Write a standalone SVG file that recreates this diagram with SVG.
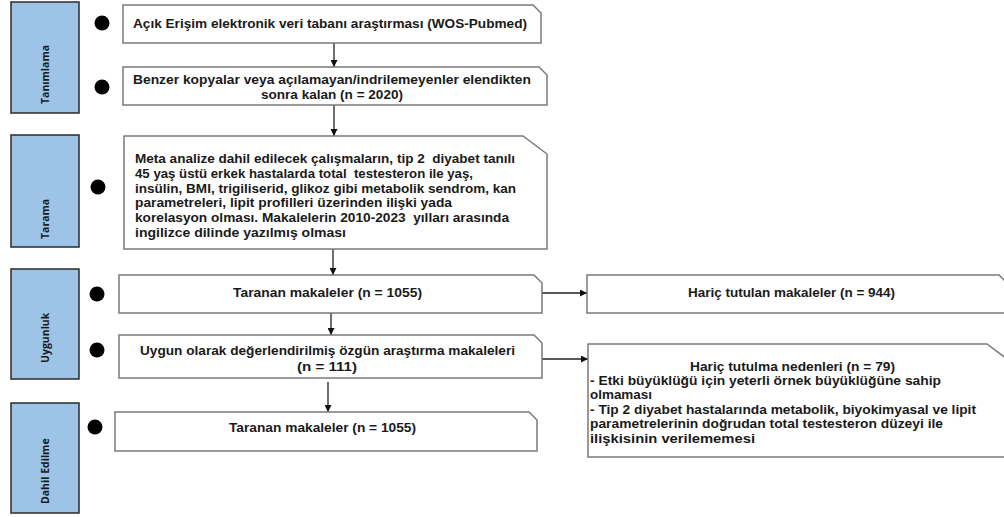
<svg xmlns="http://www.w3.org/2000/svg" width="1004" height="517" viewBox="0 0 1004 517">
<style>
.lbl{fill:#9dc3e6;stroke:#2b2b2b;stroke-width:1.5}
.lt{font-family:"Open Sans","Liberation Sans",sans-serif;font-weight:bold;font-size:10.5px;fill:#1a1a1a}
.box{fill:#fff;stroke:#7a7a7a;stroke-width:1.5}
.t{font-family:"Liberation Sans",Arial,sans-serif;font-weight:bold;font-size:12.5px;fill:#1a1a1a}
.dot{fill:#000}
.con{stroke:#222;stroke-width:1.3;fill:none;marker-end:url(#ah)}
</style>
<defs>
<marker id="ah" viewBox="0 0 10 10" refX="10" refY="5" markerWidth="7" markerHeight="7" markerUnits="userSpaceOnUse" orient="auto">
<path d="M0,0 L10,5 L0,10 z" fill="#111"/>
</marker>
</defs>
<rect width="1004" height="517" fill="#fff"/>

<g id="stage-tanimlama">
<rect class="lbl" x="11" y="2" width="68" height="111"/>
<text class="lt" transform="translate(49,104) rotate(-90)">Tanımlama</text>
</g>
<g id="stage-tarama">
<rect class="lbl" x="11" y="135" width="68" height="112"/>
<text class="lt" transform="translate(49,239) rotate(-90)">Tarama</text>
</g>
<g id="stage-uygunluk">
<rect class="lbl" x="11" y="269" width="68" height="110"/>
<text class="lt" transform="translate(49,363) rotate(-90)">Uygunluk</text>
</g>
<g id="stage-dahil">
<rect class="lbl" x="11" y="403" width="68" height="110"/>
<text class="lt" transform="translate(49,504) rotate(-90)">Dahil Edilme</text>
</g>

<g id="bullets">
<circle class="dot" cx="102" cy="23" r="7.5"/>
<circle class="dot" cx="102" cy="87" r="7.5"/>
<circle class="dot" cx="98" cy="187" r="7.5"/>
<circle class="dot" cx="97" cy="294" r="7.5"/>
<circle class="dot" cx="97" cy="350" r="7.5"/>
<circle class="dot" cx="95" cy="427" r="7.5"/>
</g>

<g id="connectors">
<line class="con" x1="334" y1="43" x2="334" y2="67"/>
<line class="con" x1="334" y1="105" x2="334" y2="136"/>
<line class="con" x1="333" y1="249" x2="333" y2="275"/>
<line class="con" x1="542" y1="293" x2="587" y2="293"/>
<line class="con" x1="331" y1="313" x2="331" y2="335"/>
<line class="con" x1="542" y1="359" x2="588" y2="359"/>
<line class="con" x1="328" y1="382" x2="328" y2="412"/>
</g>

<g id="n1">
<path class="box" d="M123,5 H533 L541,13 V43 H123 Z"/>
<text class="t" x="133" y="28" textLength="394" lengthAdjust="spacingAndGlyphs">Açık Erişim elektronik veri tabanı araştırması (WOS-Pubmed)</text>
</g>
<g id="n2">
<path class="box" d="M123,67 H539 L547,75 V105 H123 Z"/>
<text class="t" x="133" y="84" textLength="398" lengthAdjust="spacingAndGlyphs">Benzer kopyalar veya açılamayan/indrilemeyenler elendikten</text>
<text class="t" x="261" y="99" textLength="142" lengthAdjust="spacingAndGlyphs">sonra kalan (n = 2020)</text>
</g>
<g id="n3">
<path class="box" d="M124,136 H523 L547,154 V249 H124 Z"/>
<text class="t" x="135" y="163" textLength="380" lengthAdjust="spacingAndGlyphs" xml:space="preserve">Meta analize dahil edilecek çalışmaların, tip 2  diyabet tanılı</text>
<text class="t" x="135" y="178" textLength="338" lengthAdjust="spacingAndGlyphs" xml:space="preserve">45 yaş üstü erkek hastalarda total  testesteron ile yaş,</text>
<text class="t" x="135" y="193" textLength="381" lengthAdjust="spacingAndGlyphs">insülin, BMI, trigiliserid, glikoz gibi metabolik sendrom, kan</text>
<text class="t" x="135" y="207" textLength="317" lengthAdjust="spacingAndGlyphs">parametreleri, lipit profilleri üzerinden ilişki yada</text>
<text class="t" x="135" y="222" textLength="374" lengthAdjust="spacingAndGlyphs" xml:space="preserve">korelasyon olması. Makalelerin 2010-2023  yılları arasında</text>
<text class="t" x="135" y="237" textLength="211" lengthAdjust="spacingAndGlyphs">ingilizce dilinde yazılmış olması</text>
</g>
<g id="n4">
<path class="box" d="M119,275 H534 L542,283 V313 H119 Z"/>
<text class="t" x="233" y="297" textLength="189" lengthAdjust="spacingAndGlyphs">Taranan makaleler (n = 1055)</text>
</g>
<g id="n5">
<path class="box" d="M119,335 H534 L542,343 V378 H119 Z"/>
<text class="t" x="140" y="355" textLength="375" lengthAdjust="spacingAndGlyphs">Uygun olarak değerlendirilmiş özgün araştırma makaleleri</text>
<text class="t" x="297" y="371" textLength="60" lengthAdjust="spacingAndGlyphs">(n = 111)</text>
</g>
<g id="n6">
<path class="box" d="M115,412 H529 L537,420 V451 H115 Z"/>
<text class="t" x="229" y="432" textLength="187" lengthAdjust="spacingAndGlyphs">Taranan makaleler (n = 1055)</text>
</g>
<g id="n7">
<path class="box" d="M587,275 H999 L1007,283 V313 H587 Z"/>
<text class="t" x="688" y="297" textLength="207" lengthAdjust="spacingAndGlyphs">Hariç tutulan makaleler (n = 944)</text>
</g>
<g id="n8">
<path class="box" d="M588,344 H987 L1011,362 V457 H588 Z"/>
<text class="t" x="690" y="371" textLength="205" lengthAdjust="spacingAndGlyphs">Hariç tutulma nedenleri (n = 79)</text>
<text class="t" x="590" y="385" textLength="351" lengthAdjust="spacingAndGlyphs">- Etki büyüklüğü için yeterli örnek büyüklüğüne sahip</text>
<text class="t" x="590" y="399" textLength="62" lengthAdjust="spacingAndGlyphs">olmaması</text>
<text class="t" x="590" y="414" textLength="386" lengthAdjust="spacingAndGlyphs">- Tip 2 diyabet hastalarında metabolik, biyokimyasal ve lipit</text>
<text class="t" x="590" y="428" textLength="353" lengthAdjust="spacingAndGlyphs">parametrelerinin doğrudan total testesteron düzeyi ile</text>
<text class="t" x="590" y="443" textLength="165" lengthAdjust="spacingAndGlyphs">ilişkisinin verilememesi</text>
</g>
</svg>
